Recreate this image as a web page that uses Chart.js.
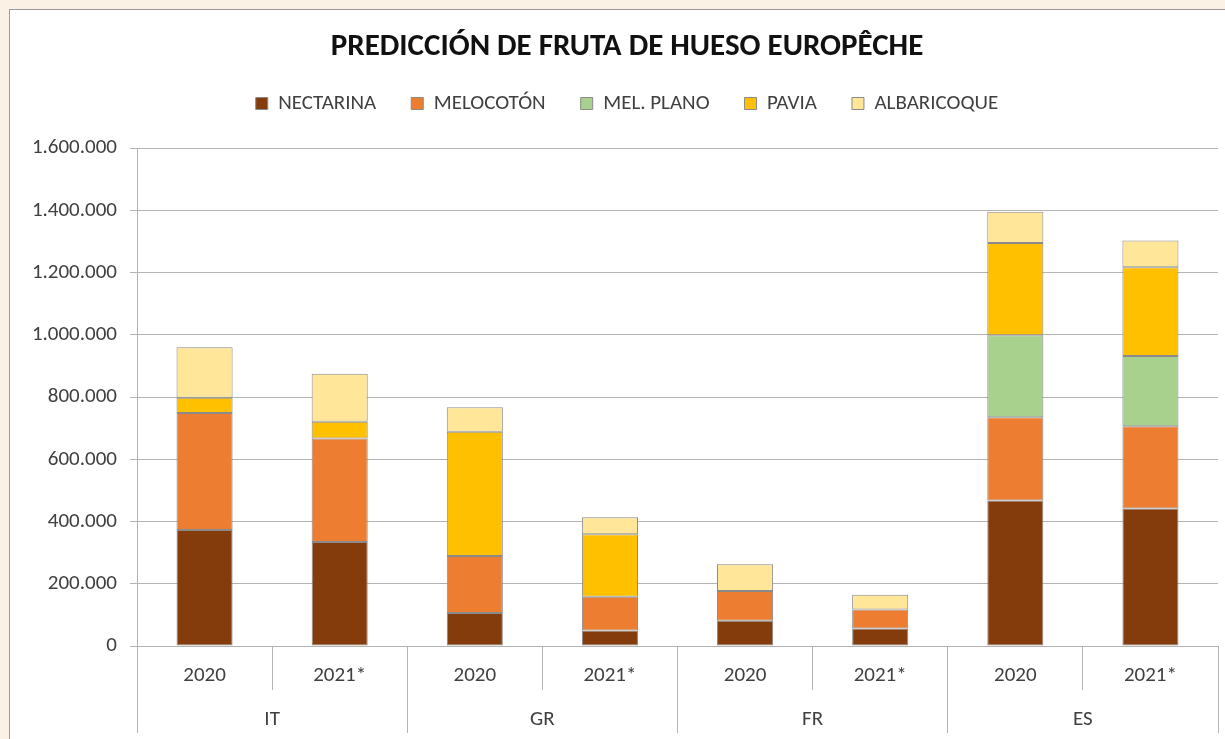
<!DOCTYPE html>
<html>
<head>
<meta charset="utf-8">
<script src="https://cdn.jsdelivr.net/npm/chart.js@4/dist/chart.umd.min.js"></script>
<style>
  html, body { margin: 0; padding: 0; overflow: hidden; background: #fcf1e5; }
  #panel {
    position: absolute; left: 9px; top: 9px;
    width: 1234px; height: 740px;
    background: #fff; border: 1px solid #9a9a9a;
  }
  #chart { display: block; }
</style>
</head>
<body>
<div id="panel"><canvas id="chart" width="1234" height="729"></canvas></div>
<script>
// ── Data (kg) ─────────────────────────────────────────────
const years = ['2020', '2021*', '2020', '2021*', '2020', '2021*', '2020', '2021*'];
const countries = ['IT', 'GR', 'FR', 'ES'];

const nectarina   = [373000, 334000, 106000,  50000, 81000, 56000, 468000, 442000];
const melocoton   = [376000, 333000, 183000, 108000, 96000, 61000, 267000, 264000];
const melPlano    = [     0,      0,      0,      0,     0,     0, 264000, 226000];
const pavia       = [ 49000,  54000, 400000, 201000,     0,     0, 296000, 285000];
const albaricoque = [162000, 154000,  78000,  55000, 86000, 48000, 101000,  86000];

const FONT = 'Carlito, Calibri, Lato, sans-serif';
const TEXT = '#404040';
const GRID = '#b3b3b3';

// 1600000 -> "1.600.000"
function fmtDots(v) {
  return String(Math.round(v)).replace(/\B(?=(\d{3})+(?!\d))/g, '.');
}

function series(label, data, color) {
  return {
    label,
    data,
    backgroundColor: color,
    borderColor: '#8a8a8a',
    borderWidth: 1,
    borderSkipped: false,
    categoryPercentage: 1,
    barPercentage: 0.415,
  };
}

new Chart(document.getElementById('chart'), {
  type: 'bar',
  data: {
    labels: years,
    datasets: [
      series('NECTARINA', nectarina, '#843c0c'),
      series('MELOCOTÓN', melocoton, '#ed7d31'),
      series('MEL. PLANO', melPlano, '#a9d18e'),
      series('PAVIA', pavia, '#ffc000'),
      series('ALBARICOQUE', albaricoque, '#ffe699'),
    ],
  },
  options: {
    responsive: false,
    animation: false,
    layout: { padding: 0 },
    plugins: {
      title: {
        display: true,
        text: 'PREDICCIÓN DE FRUTA DE HUESO EUROPÊCHE',
        color: '#111',
        font: { family: FONT, size: 31, weight: 'bold', lineHeight: 1 },
        padding: { top: 22, bottom: -5 },
      },
      // spacer between legend and plot area
      subtitle: {
        display: true,
        text: '',
        font: { size: 1 },
        padding: { top: 0, bottom: 23 },
      },
      legend: {
        weight: 1800,
        labels: {
          color: TEXT,
          font: { family: FONT, size: 21 },
          boxWidth: 12,
          boxHeight: 12,
          padding: 35,
        },
      },
      tooltip: { enabled: false },
    },
    scales: {
      x: {
        stacked: true,
        weight: 0,
        afterFit: (s) => { s.height = 44; },
        grid: { display: true, drawOnChartArea: false, offset: true, tickLength: 44, color: GRID },
        border: { color: GRID },
        ticks: { color: TEXT, font: { family: FONT, size: 21 }, padding: -27, maxRotation: 0, autoSkip: false },
      },
      x2: {
        type: 'category',
        labels: countries,
        position: 'bottom',
        weight: 1,
        offset: true,
        afterFit: (s) => { s.height = 49; },
        grid: { display: true, drawOnChartArea: false, offset: true, tickLength: 43, color: GRID },
        border: { display: false },
        ticks: { color: TEXT, font: { family: FONT, size: 21 }, padding: -26, maxRotation: 0, autoSkip: false },
      },
      y: {
        stacked: true,
        min: 0,
        max: 1600000,
        afterFit: (s) => { s.width = 127; },
        grid: { color: GRID, tickLength: 7 },
        border: { color: GRID },
        ticks: {
          stepSize: 200000,
          color: TEXT,
          font: { family: FONT, size: 21 },
          padding: 13,
          callback: (v) => fmtDots(v),
        },
      },
      // empty right margin so title/legend stay centred on the whole panel
      yRight: {
        position: 'right',
        afterFit: (s) => { s.width = 26; },
        grid: { drawOnChartArea: false, drawTicks: false },
        border: { display: false },
        ticks: { display: false },
      },
    },
  },
});
</script>
</body>
</html>
